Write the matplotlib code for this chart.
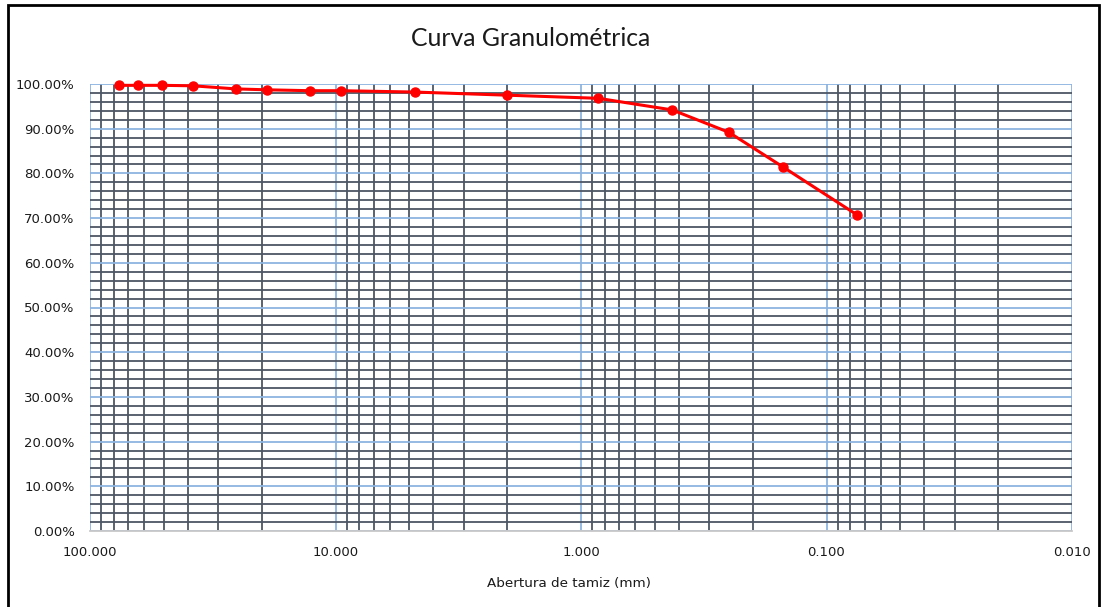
import matplotlib
matplotlib.use("Agg")
import matplotlib.pyplot as plt
from matplotlib.ticker import LogLocator, MultipleLocator, FixedLocator, FuncFormatter, NullFormatter
from matplotlib.patches import Rectangle

sieve_mm = [76.2, 63.5, 50.8, 38.1, 25.4, 19.05, 12.7, 9.525, 4.76, 2.0, 0.85, 0.425, 0.25, 0.15, 0.075]
passing_pct = [99.7, 99.7, 99.7, 99.6, 98.9, 98.7, 98.5, 98.5, 98.2, 97.5, 96.8, 94.2, 89.2, 81.4, 70.7]
x_ticks = [100, 10, 1, 0.1, 0.01]
x_tick_labels = ["100.000", "10.000", "1.000", "0.100", "0.010"]

plt.rcParams['font.family'] = ['DejaVu Sans']

fig = plt.figure(figsize=(11.06, 6.07), dpi=100)
ax = fig.add_axes([90/1106, 1-531/607, (1072-90)/1106, (531-84)/607])

ax.set_xscale('log')
ax.set_xlim(100, 0.01)
ax.set_ylim(0, 100)

ax.xaxis.set_major_locator(FixedLocator(x_ticks))
ax.xaxis.set_major_formatter(FuncFormatter(lambda v, p: x_tick_labels[x_ticks.index(min(x_ticks, key=lambda t: abs(t - v)))]))
ax.xaxis.set_minor_locator(LogLocator(base=10, subs=[2, 3, 4, 5, 6, 7, 8, 9]))
ax.xaxis.set_minor_formatter(NullFormatter())
ax.yaxis.set_major_locator(MultipleLocator(10))
ax.yaxis.set_minor_locator(MultipleLocator(2))
ax.yaxis.set_major_formatter(FuncFormatter(lambda v, p: f"{v:.2f}%"))

dark = '#4d5664'
blue = '#8cb4e0'
ax.grid(which='minor', color=dark, linewidth=1.3, zorder=0)
ax.grid(which='major', color=blue, linewidth=1.3, zorder=0)
ax.set_axisbelow(True)

for s in ['top', 'right', 'left']:
    ax.spines[s].set_visible(False)
ax.spines['bottom'].set_color('#c8c8c8')
ax.spines['bottom'].set_linewidth(1.3)
ax.tick_params(axis='both', which='both', length=0, labelsize=9.5, colors='#1a1a1a')
ax.tick_params(axis='x', pad=11)
ax.tick_params(axis='y', pad=11)

ax.plot(sieve_mm, passing_pct, color='#ff0000', linewidth=2.2, marker='o', markersize=6.5, zorder=5, clip_on=False)

fig.text(531/1106, 1-38/607, "Curva Granulométrica", ha='center', va='center', fontsize=17.8,
         color='#1a1a1a', family=['Lato', 'DejaVu Sans'])
fig.text(569/1106, 1-583/607, "Abertura de tamiz (mm)", ha='center', va='center', fontsize=9.7,
         color='#1a1a1a')

fig.patches.append(Rectangle((8/1106, -0.01), (1099-8)/1106, 1.01 - 5/607, transform=fig.transFigure,
                             fill=False, edgecolor='black', linewidth=2))

fig.savefig("out.png", dpi=100)
